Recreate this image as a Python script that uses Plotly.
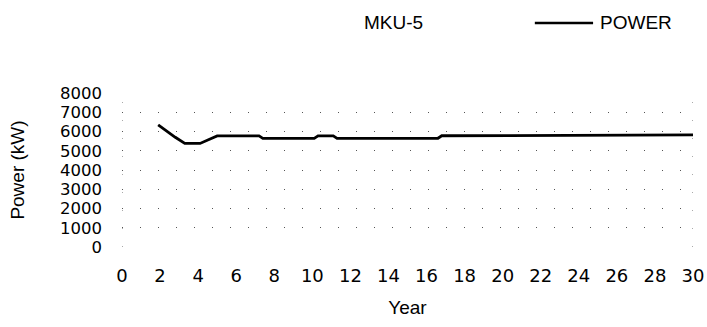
import plotly.graph_objects as go

# Power output of unit MKU-5 over its operating life
years = [1.9, 2.3, 2.8, 3.3, 4.1, 4.6, 5.0, 7.2, 7.4, 10.1, 10.3, 11.1, 11.3, 16.6, 16.8, 30.0]
power_kw = [6350, 6050, 5700, 5380, 5380, 5600, 5770, 5770, 5640, 5640, 5770, 5770, 5640, 5650, 5780, 5820]

x_ticks = list(range(0, 31, 2))
y_ticks = list(range(0, 8001, 1000))

series_name = "POWER"
chart_title = "MKU-5"

label_font = dict(family="Liberation Sans", size=19, color="black")

fig = go.Figure()
fig.add_trace(go.Scatter(
    x=years, y=power_kw, mode="lines", name=series_name,
    line=dict(color="black", width=2.8), showlegend=False,
))

# dotted frame edges at the ends of the year axis
for xv in (0, 30):
    fig.add_shape(type="line", xref="x", yref="y", x0=xv, x1=xv, y0=0, y1=8000,
                  line=dict(color="#555", width=1, dash="1px,17px"), layer="below")

# legend key: line sample followed by the series name
fig.add_shape(type="line", xref="paper", yref="paper", x0=0.723, x1=0.825,
              y0=1.455, y1=1.455, line=dict(color="black", width=2.4))

fig.update_layout(
    width=707, height=327,
    margin=dict(l=122, r=14, t=93, b=80, autoexpand=False),
    paper_bgcolor="white", plot_bgcolor="white",
    annotations=[
        dict(text=chart_title, xref="paper", yref="paper", x=0.476, y=1.455,
             xanchor="center", yanchor="middle", showarrow=False, font=label_font),
        dict(text=series_name, xref="paper", yref="paper", x=0.834, y=1.455,
             xanchor="left", yanchor="middle", showarrow=False, font=label_font),
    ],
    xaxis=dict(range=[0, 30], tickvals=x_ticks, ticktext=[str(v) for v in x_ticks],
               showgrid=False, zeroline=False, showline=False, ticks="",
               ticklabelstandoff=16,
               tickfont=dict(family="DejaVu Sans", size=18, color="black"),
               title=dict(text="Year", font=label_font, standoff=15)),
    yaxis=dict(range=[0, 8000], tickvals=y_ticks, ticktext=[str(v) for v in y_ticks],
               showgrid=True, gridcolor="#555", gridwidth=1, griddash="1px,17px",
               zeroline=False, showline=False, ticks="",
               ticklabelstandoff=19,
               tickfont=dict(family="DejaVu Sans", size=16.5, color="black"),
               title=dict(text="Power (kW)", font=label_font, standoff=30)),
)

fig.write_html("out.html")
